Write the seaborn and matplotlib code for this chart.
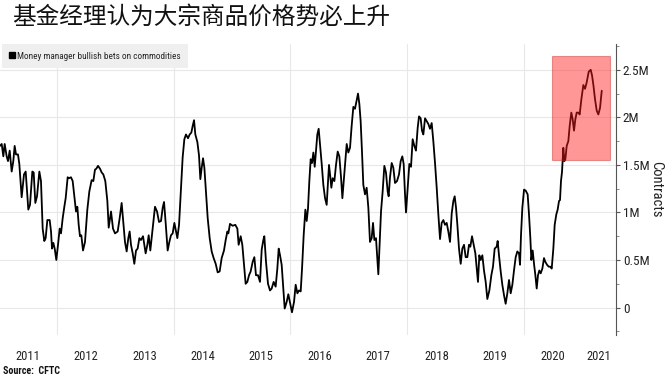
import numpy as np
import matplotlib
matplotlib.use("Agg")
import matplotlib.pyplot as plt
import seaborn as sns
from matplotlib.patches import Rectangle
from matplotlib.lines import Line2D
from matplotlib import font_manager

# ---------------- Data ----------------

title = "基金经理认为大宗商品价格势必上升"
series_name = "Money manager bullish bets on commodities"

# weekly dates as decimal years
week_year = [
    2011.024, 2011.053, 2011.081, 2011.104, 2011.138, 2011.161, 2011.190, 2011.224, 2011.252, 2011.275,
    2011.298, 2011.332, 2011.355, 2011.395, 2011.435, 2011.464, 2011.509, 2011.538, 2011.578, 2011.601,
    2011.629, 2011.658, 2011.698, 2011.726, 2011.755, 2011.783, 2011.806, 2011.835, 2011.875, 2011.898,
    2011.915, 2011.938, 2011.961, 2011.989, 2012.023, 2012.046, 2012.069, 2012.098, 2012.126, 2012.149,
    2012.183, 2012.206, 2012.240, 2012.269, 2012.303, 2012.326, 2012.349, 2012.372, 2012.394, 2012.417,
    2012.446, 2012.480, 2012.520, 2012.554, 2012.594, 2012.623, 2012.651, 2012.674, 2012.703, 2012.737,
    2012.766, 2012.794, 2012.828, 2012.863, 2012.886, 2012.926, 2012.960,
    2012.994, 2013.040, 2013.074, 2013.108, 2013.137, 2013.165, 2013.194, 2013.222, 2013.245, 2013.268,
    2013.297, 2013.325, 2013.354, 2013.382, 2013.411, 2013.439, 2013.474, 2013.497, 2013.519, 2013.548,
    2013.571, 2013.599, 2013.622, 2013.651, 2013.679, 2013.714, 2013.748, 2013.782, 2013.811, 2013.834,
    2013.862, 2013.896, 2013.925, 2013.953, 2013.982, 2014.011, 2014.039, 2014.062, 2014.091, 2014.119,
    2014.153, 2014.182, 2014.210, 2014.245, 2014.273, 2014.302, 2014.325, 2014.348, 2014.370, 2014.405,
    2014.433, 2014.456, 2014.479, 2014.502, 2014.525, 2014.553, 2014.582, 2014.616, 2014.650, 2014.684,
    2014.719, 2014.753, 2014.787, 2014.821, 2014.861, 2014.890, 2014.919, 2014.936,
    2014.964, 2015.010, 2015.055, 2015.090, 2015.112, 2015.147, 2015.175, 2015.204, 2015.232, 2015.261,
    2015.290, 2015.318, 2015.352, 2015.381, 2015.409, 2015.444, 2015.478, 2015.507, 2015.535, 2015.552,
    2015.581, 2015.615, 2015.649, 2015.678, 2015.712, 2015.746, 2015.775, 2015.798, 2015.821, 2015.849,
    2015.878, 2015.901, 2015.935, 2015.963, 2015.992, 2016.026, 2016.061, 2016.089, 2016.118, 2016.146,
    2016.175, 2016.198, 2016.226, 2016.255, 2016.278, 2016.300, 2016.323, 2016.346, 2016.369, 2016.392,
    2016.415, 2016.437, 2016.460, 2016.483, 2016.506, 2016.535, 2016.563, 2016.592, 2016.620, 2016.643,
    2016.660, 2016.683, 2016.700, 2016.723, 2016.752, 2016.780, 2016.809, 2016.837, 2016.866, 2016.889,
    2016.917,
    2016.963, 2016.991, 2017.020, 2017.048, 2017.077, 2017.105, 2017.134, 2017.157, 2017.180, 2017.202,
    2017.225, 2017.248, 2017.277, 2017.305, 2017.334, 2017.362, 2017.391, 2017.414, 2017.437, 2017.465,
    2017.488, 2017.505, 2017.528, 2017.551, 2017.579, 2017.608, 2017.636, 2017.665, 2017.682, 2017.705,
    2017.734, 2017.762, 2017.791, 2017.825, 2017.859, 2017.888, 2017.916, 2017.939, 2017.962, 2017.979,
    2018.008, 2018.036, 2018.065, 2018.093, 2018.122, 2018.150, 2018.179, 2018.202, 2018.230, 2018.253,
    2018.276, 2018.305, 2018.333, 2018.362, 2018.390, 2018.419, 2018.447, 2018.476, 2018.505, 2018.533,
    2018.562, 2018.590, 2018.619, 2018.647, 2018.676, 2018.704, 2018.733, 2018.762, 2018.790, 2018.813,
    2018.836, 2018.859, 2018.887, 2018.916, 2018.944, 2018.973, 2019.001, 2019.030, 2019.058,
    2019.081, 2019.110, 2019.138, 2019.167, 2019.190, 2019.212, 2019.235, 2019.258, 2019.287, 2019.315,
    2019.344, 2019.372, 2019.407, 2019.441, 2019.469, 2019.498, 2019.532, 2019.549, 2019.572, 2019.601,
    2019.629, 2019.658, 2019.686, 2019.715, 2019.744, 2019.772, 2019.801, 2019.829, 2019.858, 2019.886,
    2019.915, 2019.932, 2019.949, 2019.972, 2020.001, 2020.029, 2020.063, 2020.086, 2020.109, 2020.126,
    2020.149, 2020.172, 2020.195, 2020.218, 2020.240, 2020.263, 2020.286, 2020.315, 2020.343, 2020.366,
    2020.395, 2020.423, 2020.452, 2020.475, 2020.503, 2020.526, 2020.554, 2020.577, 2020.600, 2020.617,
    2020.634, 2020.652, 2020.674, 2020.692, 2020.709, 2020.732, 2020.760, 2020.783, 2020.811, 2020.834,
    2020.857, 2020.880, 2020.903, 2020.931, 2020.954, 2020.983, 2021.017, 2021.046, 2021.075, 2021.109,
    2021.143, 2021.166, 2021.189, 2021.217, 2021.246, 2021.274, 2021.303, 2021.332,
]

# net long contracts, millions
bets_m = [
    1.70, 1.72, 1.59, 1.72, 1.59, 1.54, 1.65, 1.43, 1.54, 1.70,
    1.61, 1.61, 1.51, 1.16, 1.40, 1.43, 1.03, 1.08, 1.43, 1.42,
    1.10, 1.17, 1.43, 1.33, 0.83, 0.70, 0.73, 0.92, 0.92, 0.80,
    0.62, 0.68, 0.62, 0.50, 0.69, 0.83, 0.78, 0.94, 1.06, 1.15,
    1.37, 1.36, 1.37, 1.33, 1.14, 1.01, 1.06, 0.87, 0.75, 0.76,
    0.60, 0.69, 1.03, 1.22, 1.34, 1.33, 1.45, 1.46, 1.49, 1.46,
    1.42, 1.40, 1.33, 1.12, 0.84, 1.01, 0.83,
    0.78, 0.80, 0.94, 1.10, 0.89, 0.69, 0.59, 0.73, 0.80, 0.66,
    0.57, 0.46, 0.60, 0.62, 0.73, 0.71, 0.75, 0.66, 0.57, 0.66,
    0.76, 0.60, 0.73, 0.89, 1.06, 1.01, 0.90, 0.91, 1.05, 1.11,
    0.89, 0.60, 0.69, 0.76, 0.78, 0.89, 0.80, 0.73, 0.87, 1.19,
    1.58, 1.77, 1.82, 1.78, 1.82, 1.84, 1.91, 1.97, 1.82, 1.74,
    1.60, 1.35, 1.47, 1.57, 1.47, 1.21, 0.94, 0.73, 0.59, 0.52,
    0.46, 0.37, 0.38, 0.52, 0.60, 0.71, 0.80, 0.78,
    0.88, 0.86, 0.87, 0.83, 0.66, 0.75, 0.66, 0.45, 0.25, 0.27,
    0.34, 0.38, 0.48, 0.53, 0.34, 0.34, 0.27, 0.61, 0.71, 0.75,
    0.48, 0.25, 0.18, 0.20, 0.27, 0.22, 0.41, 0.62, 0.55, 0.45,
    0.20, -0.01, 0.06, 0.14, 0.05, -0.05, 0.06, 0.24, 0.15, 0.18,
    0.17, 0.41, 0.76, 1.03, 0.91, 1.04, 1.33, 1.56, 1.52, 1.63,
    1.48, 1.64, 1.82, 1.88, 1.72, 1.51, 1.29, 1.15, 1.08, 1.33,
    1.50, 1.37, 1.26, 1.36, 1.33, 1.50, 1.64, 1.59, 1.37, 1.15,
    1.37,
    1.72, 1.63, 1.68, 1.91, 2.11, 2.09, 2.18, 2.25, 2.14, 1.96,
    1.64, 1.29, 1.19, 1.26, 1.05, 0.69, 0.73, 0.89, 0.71, 0.73,
    0.52, 0.35, 0.69, 1.01, 1.22, 1.49, 1.42, 1.22, 1.17, 1.37,
    1.52, 1.47, 1.31, 1.33, 1.40, 1.54, 1.59, 1.51, 1.19, 1.00,
    1.26, 1.51, 1.48, 1.77, 1.70, 1.65, 1.89, 2.01, 1.99, 1.86,
    1.82, 1.99, 1.96, 1.93, 1.88, 1.94, 1.75, 1.52, 1.26, 0.98,
    0.72, 0.89, 0.92, 0.87, 0.89, 0.80, 0.69, 0.99, 1.12, 1.17,
    1.05, 0.87, 0.62, 0.46, 0.62, 0.66, 0.53, 0.53, 0.66,
    0.64, 0.75, 0.66, 0.57, 0.41, 0.27, 0.55, 0.50, 0.55, 0.39,
    0.27, 0.09, 0.18, 0.34, 0.43, 0.62, 0.64, 0.70, 0.55, 0.38,
    0.24, 0.13, 0.04, 0.15, 0.29, 0.15, 0.24, 0.39, 0.53, 0.59,
    0.57, 0.45, 0.76, 1.05, 1.24, 1.23, 1.19, 0.98, 0.73, 0.50,
    0.60, 0.46, 0.34, 0.20, 0.34, 0.39, 0.36, 0.41, 0.52, 0.48,
    0.45, 0.43, 0.43, 0.41, 0.62, 0.87, 0.98, 1.03, 1.12, 1.13,
    1.33, 1.43, 1.68, 1.54, 1.56, 1.70, 1.75, 1.91, 2.05, 1.98,
    1.86, 1.98, 2.05, 2.05, 2.03, 2.19, 2.34, 2.30, 2.37, 2.48,
    2.50, 2.44, 2.34, 2.19, 2.07, 2.03, 2.10, 2.28,
]

# highlighted region (years, millions)
box_years = [2020.48, 2021.47]
box_values = [1.55, 2.64]

year_labels = ["2011", "2012", "2013", "2014", "2015", "2016",
               "2017", "2018", "2019", "2020", "2021"]
y_ticks = [0, 0.5, 1, 1.5, 2, 2.5]
y_labels = ["0", "0.5M", "1M", "1.5M", "2M", "2.5M"]

# ---------------- Plot ----------------

sns.set_theme(style="white")

# narrow font for the Bloomberg look, if there is one
names = {f.name for f in font_manager.fontManager.ttflist}
narrow = [n for n in ["Liberation Sans Narrow", "Roboto Condensed", "Open Sans Condensed",
                      "DejaVu Sans Condensed"] if n in names]
plt.rcParams["font.family"] = narrow + ["DejaVu Sans", "Noto Sans CJK SC"]
plt.rcParams["font.stretch"] = "condensed"

fig = plt.figure(figsize=(6.71, 3.77), dpi=100)
ax = fig.add_axes([0, 0.111, 0.918, 0.772])

x_min, x_max = 2011.024, 2021.576
ax.set_xlim(x_min, x_max)
ax.set_ylim(-0.29, 2.77)

sns.lineplot(x=week_year, y=bets_m, color="black", lw=1.3, sort=False, ax=ax, zorder=2)

ax.add_patch(Rectangle((box_years[0], box_values[0]),
                       box_years[1] - box_years[0], box_values[1] - box_values[0],
                       facecolor="#ff1a1a", alpha=0.45, edgecolor="#c83030",
                       lw=0.8, zorder=3))

# grid lines on even years, labels centred in each year
ax.set_xticks([2012, 2014, 2016, 2018, 2020])
ax.set_xticklabels([])
label_pos = [int(y) + 0.5 for y in year_labels[:-1]] + [(2021 + x_max) / 2]
ax.set_xticks(label_pos, minor=True)
ax.set_xticklabels(year_labels, minor=True, fontsize=9, color="#222222")
ax.tick_params(axis="x", which="both", length=0, pad=11)

ax.yaxis.tick_right()
ax.yaxis.set_label_position("right")
ax.set_yticks(y_ticks)
ax.set_yticklabels(y_labels, fontsize=9.5, color="#222222")
ax.set_yticks(np.arange(-0.25, 2.8, 0.25), minor=True)
ax.tick_params(axis="y", which="major", length=3, width=0.8, color="#555555", pad=2)
ax.tick_params(axis="y", which="minor", length=2, width=0.6, color="#777777", right=True)
ax.set_ylabel("Contracts", rotation=270, fontsize=10.5, labelpad=10, color="#222222")

ax.grid(True, which="major", color="#e8e8e8", lw=0.8)
for side in ["left", "top", "bottom"]:
    ax.spines[side].set_visible(False)
ax.spines["right"].set_color("#555555")
ax.spines["right"].set_linewidth(0.8)

handle = Line2D([], [], marker="s", color="black", ls="", markersize=4.5)
leg = ax.legend([handle], [series_name], loc="upper left", bbox_to_anchor=(0.004, 1.0),
                fontsize=6.7, frameon=True, facecolor="#efefef", edgecolor="none",
                framealpha=1, fancybox=False, handlelength=0.5, handletextpad=0.3,
                borderpad=0.8, borderaxespad=0)

fig.text(0.018, 0.985, title, family=["Noto Sans CJK SC"], fontsize=17,
         va="top", ha="left", color="#111111")
fig.text(0.004, 0.002, "Source:  CFTC", fontsize=7.2, weight="bold", va="bottom", color="#111111")

fig.savefig("out.png", dpi=100)
